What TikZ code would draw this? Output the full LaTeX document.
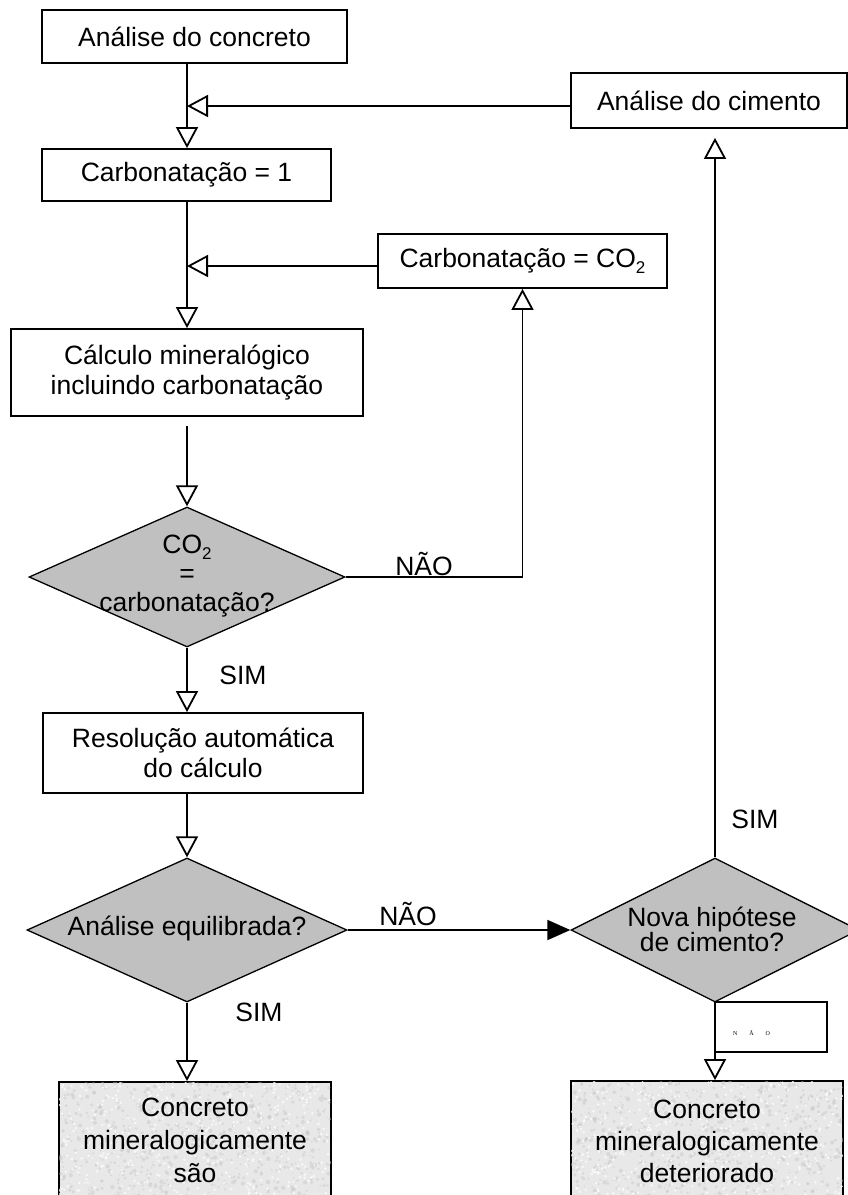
\documentclass[tikz,border=0pt]{standalone}
\usepackage{fontspec}
\setmainfont{Liberation Sans}
\newfontfamily\tinyserif{Liberation Serif}
\usetikzlibrary{arrows.meta,shapes.geometric,calc}
\definecolor{diafill}{HTML}{C0C0C0}
\definecolor{granite}{HTML}{E8E8E8}
\newcommand{\subtwo}{\raisebox{-6pt}{\fontsize{17}{17}\selectfont 2}}
\begin{document}
\begin{tikzpicture}[x=1pt,y=1pt,
  txt/.style={font=\fontsize{26.5}{30}\selectfont, inner sep=0pt, align=center},
  box/.style={draw, line width=1.8pt, rectangle, inner sep=0pt, align=center, font=\fontsize{26.5}{30}\selectfont},
  endbox/.style={draw, line width=1.8pt, rectangle, inner sep=0pt, fill=granite},
  decision/.style={draw, line width=1.3pt, diamond, fill=diafill, inner sep=0pt},
  conn/.style={line width=1.8pt},
  oarr/.style={conn, -{Triangle[open, length=21pt, width=22pt]}},
  farr/.style={conn, -{Triangle[length=23pt, width=20pt]}},
  lbl/.style={font=\fontsize{26.5}{30}\selectfont, inner sep=0pt}
]
\useasboundingbox (0,0) rectangle (848,-1195);
\fill[white] (0,0) rectangle (848,-1195);

% boxes
\node[box, minimum width=305, minimum height=53] (a1) at (194.5,-36.5) {Análise do concreto};
\node[box, minimum width=276, minimum height=55] (cim) at (709,-100.5) {Análise do cimento};
\node[box, minimum width=289, minimum height=52] (c1) at (186.5,-175) {Carbonatação = 1};
\node[box, minimum width=289, minimum height=54] (cco2) at (522.5,-261) {Carbonatação = CO\subtwo};
\node[box, minimum width=352, minimum height=87] (calc) at (187,-372.5) {Cálculo mineralógico\\incluindo carbonatação};
\node[box, minimum width=320, minimum height=80] (res) at (203,-753) {Resolução automática\\do cálculo};

% decisions
\node[decision, minimum width=316, minimum height=140] (d1) at (187,-577) {};
\node[txt, font=\fontsize{26.5}{29}\selectfont] (d1t) at (187,-576) {CO\subtwo\\=\\carbonatação?};
\node[decision, minimum width=320, minimum height=144] (d2) at (187,-930) {};
\node[txt] (d2t) at (187,-928) {Análise equilibrada?};
\node[decision, minimum width=288, minimum height=144] (d3) at (715,-930) {};
\node[txt, font=\fontsize{26.5}{25}\selectfont] (d3t) at (712,-929) {Nova hipótese\\de cimento?};

% small NAO box
\node[draw, line width=1.6pt, rectangle, minimum width=112, minimum height=50, inner sep=0pt] (nbox) at (771,-1027) {};
\node[font=\tinyserif\fontsize{6}{7}\selectfont, inner sep=0pt] (nboxt) at (751.5,-1033) {N\hspace{12pt}Ã\hspace{12pt}O};

% end boxes
\node[endbox, minimum width=272, minimum height=123] (sao) at (195,-1143.5) {};
\node[endbox, minimum width=272, minimum height=124] (det) at (707,-1143) {};
\pgfmathsetseed{11}
\begin{scope}
  \clip ([shift={(1,-1)}]sao.north west) rectangle ([shift={(-1,1)}]sao.south east);
  \foreach \i in {1,...,800}{
    \pgfmathsetmacro\px{59+272*rnd}
    \pgfmathsetmacro\py{-1082-123*rnd}
    \pgfmathsetmacro\pr{0.6+1.6*rnd}
    \fill[gray!45, opacity=0.45] (\px,\py) circle (\pr);
  }
  \foreach \i in {1,...,450}{
    \pgfmathsetmacro\px{59+272*rnd}
    \pgfmathsetmacro\py{-1082-123*rnd}
    \fill[white, opacity=0.75] (\px,\py) circle (1.3);
  }
\end{scope}
\begin{scope}
  \clip ([shift={(1,-1)}]det.north west) rectangle ([shift={(-1,1)}]det.south east);
  \foreach \i in {1,...,800}{
    \pgfmathsetmacro\px{571+272*rnd}
    \pgfmathsetmacro\py{-1081-124*rnd}
    \pgfmathsetmacro\pr{0.6+1.6*rnd}
    \fill[gray!45, opacity=0.45] (\px,\py) circle (\pr);
  }
  \foreach \i in {1,...,450}{
    \pgfmathsetmacro\px{571+272*rnd}
    \pgfmathsetmacro\py{-1081-124*rnd}
    \fill[white, opacity=0.75] (\px,\py) circle (1.3);
  }
\end{scope}
\node[txt, font=\fontsize{26.5}{33}\selectfont] (saot) at (195,-1140) {Concreto\\mineralogicamente\\são};
\node[txt, font=\fontsize{26.5}{32}\selectfont] (dett) at (707,-1141.5) {Concreto\\mineralogicamente\\deteriorado};

% connectors
\draw[oarr] (a1.south -| calc.center) -- (c1.north -| calc.center);
\draw[oarr] ([yshift=-5.5pt]cim.west) -- ([yshift=-5.5pt]cim.west -| calc.center);
\draw[oarr] (c1.south -| calc.center) -- (calc.north);
\draw[oarr] ([yshift=-5pt]cco2.west) -- ([yshift=-5pt]cco2.west -| calc.center);
\draw[oarr] ([yshift=-9pt]calc.south) -- (d1.north);
\draw[oarr] (d1.east) -| (cco2.south);
\draw[oarr] (d1.south) -- (res.north -| d1.south);
\draw[oarr] (res.south -| d2.north) -- (d2.north);
\draw[farr] (d2.east) -- (d3.west);
\draw[oarr] (d3.north) -- ([yshift=-9pt]cim.south -| d3.north);
\draw[oarr] (d3.south) -- (det.north -| d3.south);
\draw[oarr] (d2.south) -- (sao.north -| d2.south);

% labels
\node[lbl] (nao1) at (424,-564) {NÃO};
\node[lbl] (sim1) at (243,-675) {SIM};
\node[lbl] (nao2) at (408,-914) {NÃO};
\node[lbl] (sim2) at (259,-1012) {SIM};
\node[lbl] (sim3) at (755,-819) {SIM};
\end{tikzpicture}
\end{document}
